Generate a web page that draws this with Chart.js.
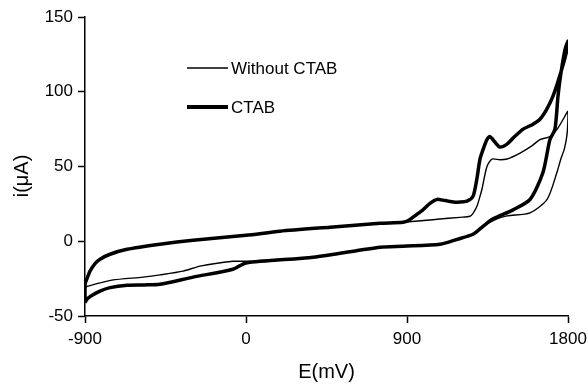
<!DOCTYPE html>
<html>
<head>
<meta charset="utf-8">
<script src="https://cdn.jsdelivr.net/npm/chart.js@4/dist/chart.umd.min.js"></script>
<style>
  html, body { margin: 0; padding: 0; background: #fff; }
  #wrap { width: 588px; height: 384px; }
</style>
</head>
<body>
<div id="wrap"><canvas id="cv" width="588" height="384"></canvas></div>
<script>
// cyclic voltammograms, E in mV, i in uA (loop: anodic branch then cathodic branch)
const ctabE = [-900, -900, -889, -872, -844, -816, -760, -665, -481, -296, 0, 190, 470, 749, 878,
  910, 950, 989, 1030, 1068, 1100, 1124, 1160, 1196, 1235, 1269, 1291, 1308, 1330, 1347, 1364,
  1390, 1420, 1459, 1493, 1549, 1600, 1643, 1680, 1716, 1760, 1794, 1800,
  1783, 1760, 1744, 1727, 1699, 1660, 1588, 1493, 1381, 1325, 1269, 1180, 1085, 878, 749, 375,
  0, -73, -296, -481, -570, -665, -760, -816, -883, -900];
const ctabI = [-41, -29, -25, -20, -15, -12, -8.7, -5.4, -2, 0.7, 4, 6.7, 9.4, 12, 12.7,
  14, 17.5, 21, 25.5, 28, 27.5, 27, 26.3, 26.2, 26.8, 30, 42, 55, 63, 68, 70,
  66.5, 63, 65, 69, 75, 78, 81.6, 88, 97, 113, 128, 134,
  128, 112, 97, 75, 68, 46, 28, 21, 15, 10, 4.7, 1.3, -2, -3.3, -4, -10.7,
  -14.5, -18.7, -24, -28.8, -29.2, -29.4, -31, -33.4, -38, -41];

const plainE = [-900, -889, -872, -844, -816, -760, -665, -481, -296, 0, 190, 470, 749, 878,
  1068, 1196, 1252, 1269, 1291, 1308, 1319, 1347, 1375, 1420, 1459, 1532, 1600, 1643, 1699,
  1740, 1794, 1800,
  1795, 1780, 1760, 1738, 1683, 1588, 1459, 1403, 1325, 1269, 1180, 1085, 878, 749, 375,
  0, -73, -257, -352, -480, -576, -750, -883, -900];
const plainI = [-31, -25, -20, -15, -12, -8.7, -5.4, -2, 0.7, 4, 6.7, 9.4, 12, 12.7,
  14.7, 16, 16.7, 18.7, 23.4, 30, 34.8, 50, 55, 54.5, 55, 59, 64, 68, 70,
  75, 86, 87,
  72, 62, 55, 46, 28, 19, 17, 15, 10, 4.7, 1.3, -2, -3.3, -4, -10.7,
  -13.4, -13.4, -16.6, -20, -22.5, -24, -26, -30, -31];

const xTicks = [-900, 0, 900, 1800];
const yTicks = [-50, 0, 50, 100, 150];
const seriesNames = ['Without CTAB', 'CTAB'];

function toPoints(xs, ys) {
  return xs.map((x, k) => ({ x: x, y: ys[k] }));
}

const FONT = '"Liberation Sans", Arial, sans-serif';

// legend and y title drawn straight on the canvas, like the original figure
const overlay = {
  id: 'overlay',
  afterDraw(chart) {
    const ctx = chart.ctx;
    ctx.save();
    ctx.strokeStyle = '#000';
    ctx.fillStyle = '#000';
    ctx.lineCap = 'butt';
    ctx.font = '17px ' + FONT;
    ctx.textBaseline = 'middle';
    const rows = [{ y: 68, w: 1.5 }, { y: 107, w: 4 }];
    rows.forEach((r, k) => {
      ctx.lineWidth = r.w;
      ctx.beginPath();
      ctx.moveTo(187, r.y);
      ctx.lineTo(228, r.y);
      ctx.stroke();
      ctx.fillText(seriesNames[k], 231, r.y + 1);
    });
    ctx.translate(22, 176);
    ctx.rotate(-Math.PI / 2);
    ctx.font = '20px ' + FONT;
    ctx.textAlign = 'center';
    ctx.fillText('i(\u03bcA)', 0, 0);
    ctx.restore();
  }
};

const chart = new Chart(document.getElementById('cv').getContext('2d'), {
  type: 'scatter',
  data: {
    datasets: [
      {
        label: seriesNames[1],
        data: toPoints(ctabE, ctabI),
        showLine: true,
        borderColor: '#000',
        borderWidth: 3.5,
        pointRadius: 0,
        tension: 0.25,
        borderJoinStyle: 'round'
      },
      {
        label: seriesNames[0],
        data: toPoints(plainE, plainI),
        showLine: true,
        borderColor: '#000',
        borderWidth: 1.4,
        pointRadius: 0,
        tension: 0.25,
        borderJoinStyle: 'round'
      }
    ]
  },
  options: {
    responsive: false,
    animation: false,
    layout: { padding: { top: 17, right: 20, left: 0, bottom: 0 } },
    plugins: { legend: { display: false }, tooltip: { enabled: false } },
    scales: {
      x: {
        type: 'linear',
        min: -900,
        max: 1800,
        afterBuildTicks: (s) => { s.ticks = xTicks.map(v => ({ value: v })); },
        afterFit: (s) => { s.height = 68; s.paddingLeft = 0; s.paddingRight = 0; },
        grid: { drawOnChartArea: false, drawTicks: true, tickLength: 7, color: '#000', tickWidth: 1.5 },
        border: { color: '#000', width: 1.5 },
        ticks: { color: '#000', font: { family: FONT, size: 17 }, padding: 6, maxRotation: 0, callback: (v) => String(v) },
        title: { display: true, text: 'E(mV)', color: '#000', font: { family: FONT, size: 20 }, padding: { top: 0, bottom: 0 } }
      },
      y: {
        type: 'linear',
        min: -50,
        max: 150,
        afterBuildTicks: (s) => { s.ticks = yTicks.map(v => ({ value: v })); },
        afterFit: (s) => { s.width = 85; s.paddingTop = 0; s.paddingBottom = 0; },
        grid: { drawOnChartArea: false, drawTicks: true, tickLength: 7, color: '#000', tickWidth: 1.5 },
        border: { color: '#000', width: 1.5 },
        ticks: { color: '#000', font: { family: FONT, size: 17 }, padding: 5, callback: (v) => String(v) }
      }
    }
  },
  plugins: [overlay]
});
</script>
</body>
</html>
